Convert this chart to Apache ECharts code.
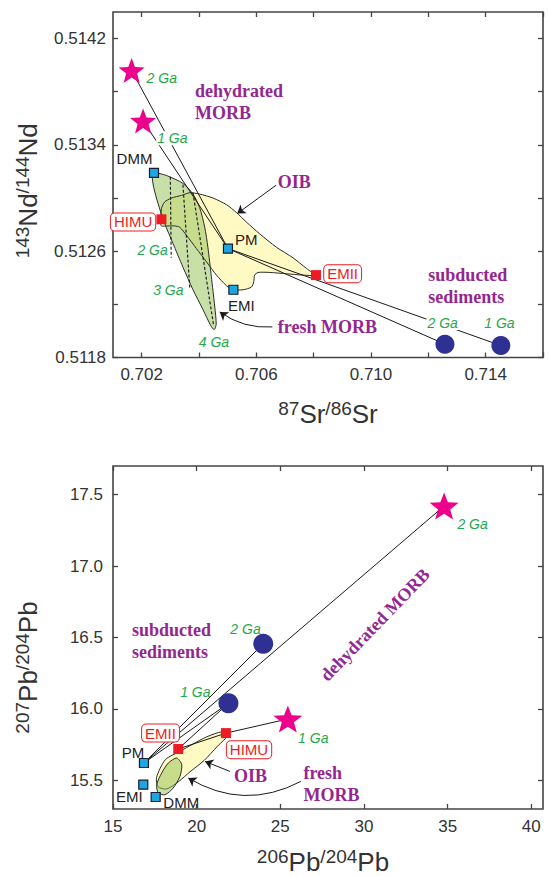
<!DOCTYPE html>
<html><head><meta charset="utf-8">
<script src="https://cdn.jsdelivr.net/npm/echarts@6/dist/echarts.min.js"></script>
<style>html,body{margin:0;padding:0;background:#fff;}#c{width:549px;height:876px;}</style>
</head><body><div id="c"></div>
<script>
// ================= DATA =================
// Panel 1: 87Sr/86Sr vs 143Nd/144Nd
const srEndNames = ['DMM', 'HIMU', 'PM', 'EMI', 'EMII'];
const srEndSr = [0.70243, 0.70269, 0.70501, 0.70520, 0.70808];
const srEndNd = [0.51319, 0.51284, 0.51262, 0.51231, 0.51242];
const srMorbAges = ['2 Ga', '1 Ga'];           // dehydrated MORB (stars)
const srMorbSr = [0.70165, 0.70205];
const srMorbNd = [0.51396, 0.51358];
const srSedAges = ['2 Ga', '1 Ga'];            // subducted sediments (circles)
const srSedSr = [0.71258, 0.71453];
const srSedNd = [0.51190, 0.51189];
const srOibFieldSr = [0.70266,0.70269,0.70280,0.70304,0.70339,0.70368,0.70402,0.70449,0.70496,0.70531,0.70565,0.70612,0.70670,0.70728,0.70775,0.70804,0.70763,0.70705,0.70647,0.70606,0.70594,0.70591,0.70583,0.70554,0.70519,0.70496,0.70461,0.70426,0.70391,0.70356,0.70333,0.70315,0.70292,0.70269];
const srOibFieldNd = [0.51282,0.51292,0.51297,0.51300,0.51302,0.51304,0.51303,0.51300,0.51295,0.51289,0.51282,0.51273,0.51263,0.51255,0.51247,0.51242,0.51242,0.51243,0.51244,0.51244,0.51242,0.51237,0.51233,0.51231,0.51231,0.51234,0.51242,0.51252,0.51262,0.51272,0.51278,0.51279,0.51279,0.51279];
const srMorbFieldSr = [0.70243,0.70286,0.70344,0.70379,0.70402,0.70420,0.70431,0.70443,0.70455,0.70460,0.70453,0.70441,0.70414,0.70379,0.70344,0.70309,0.70280,0.70257,0.70242,0.70237];
const srMorbFieldNd = [0.51319,0.51317,0.51311,0.51303,0.51293,0.51278,0.51263,0.51241,0.51218,0.51205,0.51201,0.51204,0.51216,0.51231,0.51248,0.51266,0.51281,0.51296,0.51308,0.51316];
const srAgeLineNames = ['2 Ga', '3 Ga', '4 Ga'];
const srAgeLineSr = [[0.70300, 0.70303], [0.70344, 0.70368], [0.70379, 0.70451]];
const srAgeLineNd = [[0.51316, 0.51255], [0.51310, 0.51232], [0.51304, 0.51204]];
const srTicks = [0.702, 0.704, 0.706, 0.708, 0.710, 0.712, 0.714, 0.716];
const srTickLabels = [0.702, 0.706, 0.710, 0.714];
const ndTicks = [0.5118, 0.5122, 0.5126, 0.5130, 0.5134, 0.5138, 0.5142];
const ndTickLabels = [0.5118, 0.5126, 0.5134, 0.5142];

// Panel 2: 206Pb/204Pb vs 207Pb/204Pb
const pbEndNames = ['DMM', 'HIMU', 'PM', 'EMI', 'EMII'];
const pb206End = [17.55, 21.75, 16.85, 16.81, 18.90];
const pb207End = [15.384, 15.831, 15.622, 15.470, 15.720];
const pbMorbAges = ['2 Ga', '1 Ga'];
const pbMorb206 = [34.79, 25.45];
const pbMorb207 = [17.42, 15.93];
const pbSedAges = ['2 Ga', '1 Ga'];
const pbSed206 = [23.98, 21.90];
const pbSed207 = [16.456, 16.040];
const pbOibField206 = [17.60,18.13,19.10,19.71,20.60,21.50,21.90,21.25,20.45,19.60,18.90,18.20,17.70];
const pbOibField207 = [15.520,15.645,15.710,15.750,15.805,15.840,15.820,15.740,15.640,15.560,15.490,15.440,15.455];
const pbMorbField206 = [18.81,19.11,19.00,18.60,18.11,17.71,17.61,17.91,18.31];
const pbMorbField207 = [15.657,15.610,15.528,15.447,15.400,15.412,15.470,15.552,15.622];
const pb206Ticks = [15, 20, 25, 30, 35, 40];
const pb207Ticks = [15.5, 16.0, 16.5, 17.0, 17.5];

// ================= STYLE =================
const SANS = "'Liberation Sans', Arial, Helvetica, sans-serif";
const SERIF = "'Liberation Serif', 'Times New Roman', serif";
const C = {axis:'#444', text:'#333', green:'#1FA84A', purple:'#93278F', red:'#ED1C24',
  blue:'#1BA8E0', navy:'#2E3192', magenta:'#EC008C', line:'#1a1a1a'};
const STAR = 'path://M50,0 L62.3,33 L97.55,34.55 L70,56.5 L79.39,90.45 L50,71 L20.61,90.45 L30,56.5 L2.45,34.55 L37.7,33 Z';

const el = document.getElementById('c');
const chart = echarts.init(el, null, {renderer:'svg'});

const idx = (names, n) => names.indexOf(n);
const pt = (xs, ys, i) => [xs[i], ys[i]];

function axisPair(g, pos, min, max, ticks, labels, fmt, margin, name, nameGap, namePad) {
  const mk = (p, main) => ({
    gridIndex: g, type: 'value', position: p, min, max, scale: true,
    axisLine: {show: false}, splitLine: {show: false},
    axisTick: {show: true, inside: true, length: 5, customValues: ticks, lineStyle: {color: C.axis, width: 1.3}},
    axisLabel: main ? {show: true, customValues: labels, formatter: fmt, fontSize: 17, color: C.text, fontFamily: SANS, margin} : {show: false},
    name: main ? name : '', nameLocation: 'middle', nameGap,
    nameTextStyle: {color: C.text, padding: namePad || 0, rich: {
      b: {fontSize: 26, fontFamily: SANS, color: C.text, lineHeight: 30},
      s: {fontSize: 19, fontFamily: SANS, color: C.text, verticalAlign: 'top', lineHeight: 22}}}
  });
  const opp = {bottom: 'top', top: 'bottom', left: 'right', right: 'left'}[pos];
  return [mk(pos, true), mk(opp, false)];
}

function fieldSeries(g, xs, ys, fill, stroke, z) {
  return {type: 'custom', xAxisIndex: 2*g, yAxisIndex: 2*g, z, silent: true, clip: false,
    data: [[xs[0], ys[0]]],
    renderItem(params, api) {
      return {type: 'polygon', shape: {points: xs.map((x, i) => api.coord([x, ys[i]])), smooth: 0.25},
        style: {fill: fill, stroke: stroke, lineWidth: 1}};
    }};
}

function segSeries(g, segs, style, extra) {
  return Object.assign({type: 'lines', coordinateSystem: 'cartesian2d', xAxisIndex: 2*g, yAxisIndex: 2*g,
    silent: true, z: 5, symbol: 'none', data: segs.map(s => ({coords: s})),
    lineStyle: Object.assign({opacity: 1}, style)}, extra || {});
}

function markerSeries(g, xs, ys, symbol, size, itemStyle, z) {
  return {type: 'scatter', xAxisIndex: 2*g, yAxisIndex: 2*g, symbol, symbolSize: size, z: z || 10,
    silent: true, itemStyle: Object.assign({opacity: 1}, itemStyle), data: xs.map((x, i) => [x, ys[i]])};
}

function textSeries(g, items) {
  return {type: 'custom', xAxisIndex: 2*g, yAxisIndex: 2*g, z: 30, silent: true, clip: false,
    data: items.map(it => [it.at[0], it.at[1]]),
    renderItem(params, api) {
      const it = items[params.dataIndex];
      const p = api.coord([api.value(0), api.value(1)]);
      return {type: 'text', x: p[0], y: p[1], rotation: (it.rot || 0) * Math.PI / 180,
        style: Object.assign({text: it.t, align: it.align || 'center', verticalAlign: 'middle'}, it.s)};
    }};
}

const ga = {fill: C.green, fontStyle: 'italic', fontSize: 14, fontFamily: SANS};
const gaBg = Object.assign({backgroundColor: '#fff', padding: [0, 1]}, ga);
const em = {fill: '#222', fontSize: 15, fontFamily: SANS};
const box = {fill: C.red, fontSize: 15, fontFamily: SANS, backgroundColor: '#fff', borderColor: C.red,
  borderWidth: 1, borderRadius: 4, padding: [1, 3, 0, 3], lineHeight: 16};
const pur = {fill: C.purple, fontSize: 18, fontWeight: 'bold', fontFamily: SERIF, lineHeight: 22};

// ---------- Panel 1 pieces ----------
const sPM = pt(srEndSr, srEndNd, idx(srEndNames, 'PM'));
const p1Mix = [
  [pt(srMorbSr, srMorbNd, 0), sPM], [pt(srMorbSr, srMorbNd, 1), sPM],
  [sPM, pt(srSedSr, srSedNd, 0)], [sPM, pt(srSedSr, srSedNd, 1)]];
const p1Age = srAgeLineSr.map((xs, i) => [[xs[0], srAgeLineNd[i][0]], [xs[1], srAgeLineNd[i][1]]]);
const blueNames = ['DMM', 'PM', 'EMI'], redNames = ['HIMU', 'EMII'];
const sel = (names, xs, ys, want) => { const r = [[], []]; want.forEach(n => { const i = names.indexOf(n); r[0].push(xs[i]); r[1].push(ys[i]); }); return r; };
const p1Blue = sel(srEndNames, srEndSr, srEndNd, blueNames);
const p1Red = sel(srEndNames, srEndSr, srEndNd, redNames);

const p1Text = [
  {t: srMorbAges[0], at: [0.70270, 0.51390], s: ga},
  {t: srMorbAges[1], at: [0.70307, 0.51345], s: gaBg},
  {t: 'DMM', at: [0.70175, 0.51330], s: em},
  {t: 'HIMU', at: [0.70170, 0.51282], s: box},
  {t: 'PM', at: [0.70565, 0.51269], s: em},
  {t: 'EMI', at: [0.70548, 0.51219], s: em},
  {t: 'EMII', at: [0.70901, 0.51243], s: box},
  {t: srAgeLineNames[0], at: [0.70238, 0.51261], s: ga},
  {t: srAgeLineNames[1], at: [0.70293, 0.51231], s: ga},
  {t: srAgeLineNames[2], at: [0.70452, 0.51192], s: ga},
  {t: srSedAges[0], at: [0.71250, 0.51206], s: gaBg},
  {t: srSedAges[1], at: [0.71448, 0.51206], s: ga},
  {t: 'dehydrated\nMORB', at: [0.70386, 0.51372], align: 'left', s: pur},
  {t: 'OIB', at: [0.70675, 0.51312], align: 'left', s: pur},
  {t: 'fresh MORB', at: [0.70675, 0.51203], align: 'left', s: pur},
  {t: 'subducted\nsediments', at: [0.71200, 0.51234], align: 'left', s: pur}
];
const p1Arrows = [
  {coords: [[0.706686, 0.513096], [0.705333, 0.512883]], lineStyle: {curveness: 0}},
  {coords: [[0.70656, 0.51203], [0.704722, 0.512143]], lineStyle: {curveness: 0.18}}
];

// ---------- Panel 2 pieces ----------
const bPM = pt(pb206End, pb207End, idx(pbEndNames, 'PM'));
const bEMII = pt(pb206End, pb207End, idx(pbEndNames, 'EMII'));
const bHIMU = pt(pb206End, pb207End, idx(pbEndNames, 'HIMU'));
const p2Mix = [
  [bPM, pt(pbMorb206, pbMorb207, 0)], [bPM, pt(pbSed206, pbSed207, 0)], [bPM, pt(pbSed206, pbSed207, 1)],
  [bEMII, pt(pbSed206, pbSed207, 1)], [pt(pbMorb206, pbMorb207, 1), bHIMU], [bHIMU, bEMII]];
const p2Blue = sel(pbEndNames, pb206End, pb207End, blueNames);
const p2Red = sel(pbEndNames, pb206End, pb207End, redNames);
const p2Text = [
  {t: pbMorbAges[0], at: [36.49, 17.295], s: ga},
  {t: 'dehydrated MORB', at: [30.66, 16.589], rot: 46, s: pur},
  {t: 'subducted\nsediments', at: [16.14, 16.475], align: 'left', s: pur},
  {t: pbSedAges[0], at: [22.92, 16.558], s: ga},
  {t: pbSedAges[1], at: [19.92, 16.122], s: ga},
  {t: 'EMII', at: [17.84, 15.831], s: box},
  {t: pbMorbAges[1], at: [26.97, 15.797], s: ga},
  {t: 'HIMU', at: [23.13, 15.715], s: box},
  {t: 'PM', at: [16.20, 15.692], s: em},
  {t: 'EMI', at: [15.97, 15.384], s: em},
  {t: 'DMM', at: [19.08, 15.346], s: em},
  {t: 'OIB', at: [22.23, 15.533], align: 'left', s: pur},
  {t: 'fresh\nMORB', at: [26.38, 15.476], align: 'left', s: pur}
];
const p2Arrows = [
  {coords: [[21.99, 15.563], [20.50, 15.633]], lineStyle: {curveness: 0}},
  {coords: [[26.23, 15.493], [19.50, 15.517]], lineStyle: {curveness: 0.28}}
];

const yellow = '#FFF9C4';
const greenFill = 'rgba(145,193,81,0.5)';
const arrowExtra = {symbol: ['none', 'arrow'], symbolSize: 8, z: 8};

const option = {
  animation: false,
  backgroundColor: '#fff',
  grid: [
    {left: 113, right: 6, top: 12, height: 345.5, show: true, borderColor: C.axis, borderWidth: 1.6, backgroundColor: 'transparent'},
    {left: 113, right: 6, top: 466, height: 343, show: true, borderColor: C.axis, borderWidth: 1.6, backgroundColor: 'transparent'}
  ],
  xAxis: [
    ...axisPair(0, 'bottom', 0.701, 0.716, srTicks, srTickLabels, v => v.toFixed(3), 8,
      '{s|87}{b|Sr}{s|/86}{b|Sr}', 41),
    ...axisPair(1, 'bottom', 15, 40.7, pb206Ticks, pb206Ticks, v => String(v), 9,
      '{s|206}{b|Pb}{s|/204}{b|Pb}', 38, [0, 10, 0, 0])
  ],
  yAxis: [
    ...axisPair(0, 'left', 0.5118, 0.5144, ndTicks, ndTickLabels, v => v.toFixed(4), 7,
      '{s|143}{b|Nd}{s|/144}{b|Nd}', 70, [0, 12, 0, 0]),
    ...axisPair(1, 'left', 15.3, 17.7, pb207Ticks, pb207Ticks, v => v.toFixed(1), 10,
      '{s|207}{b|Pb}{s|/204}{b|Pb}', 70, [0, 60, 0, 0])
  ],
  series: [
    // panel 1
    fieldSeries(0, srOibFieldSr, srOibFieldNd, yellow, 'transparent', 1),
    fieldSeries(0, srMorbFieldSr, srMorbFieldNd, greenFill, '#2b2b2b', 2),
    fieldSeries(0, srOibFieldSr, srOibFieldNd, 'none', '#2b2b2b', 3),
    segSeries(0, p1Age, {color: '#222', width: 1.2, type: [3, 2]}),
    segSeries(0, p1Mix, {color: C.line, width: 1}),
    segSeries(0, [], {color: C.line, width: 1}, Object.assign({}, arrowExtra, {data: p1Arrows})),
    markerSeries(0, srMorbSr, srMorbNd, STAR, [26, 25], {color: C.magenta}),
    markerSeries(0, srSedSr, srSedNd, 'circle', 19, {color: C.navy}),
    markerSeries(0, p1Blue[0], p1Blue[1], 'rect', 9, {color: C.blue, borderColor: '#1a1a2e', borderWidth: 1.2}),
    markerSeries(0, p1Red[0], p1Red[1], 'rect', 10, {color: C.red}),
    textSeries(0, p1Text),
    // panel 2
    fieldSeries(1, pbOibField206, pbOibField207, yellow, '#2b2b2b', 1),
    fieldSeries(1, pbMorbField206, pbMorbField207, greenFill, '#2b2b2b', 2),
    segSeries(1, p2Mix, {color: C.line, width: 1}),
    segSeries(1, [], {color: C.line, width: 1}, Object.assign({}, arrowExtra, {data: p2Arrows})),
    markerSeries(1, pbMorb206, pbMorb207, STAR, [29, 27], {color: C.magenta}),
    markerSeries(1, pbSed206, pbSed207, 'circle', 20, {color: C.navy}),
    markerSeries(1, p2Blue[0], p2Blue[1], 'rect', 9, {color: C.blue, borderColor: '#1a1a2e', borderWidth: 1.2}),
    markerSeries(1, p2Red[0], p2Red[1], 'rect', 10, {color: C.red}),
    textSeries(1, p2Text)
  ]
};
// axis index mapping: grid0 -> x0,x1 / y0,y1 ; grid1 -> x2,x3 / y2,y3
chart.setOption(option);
</script></body></html>
